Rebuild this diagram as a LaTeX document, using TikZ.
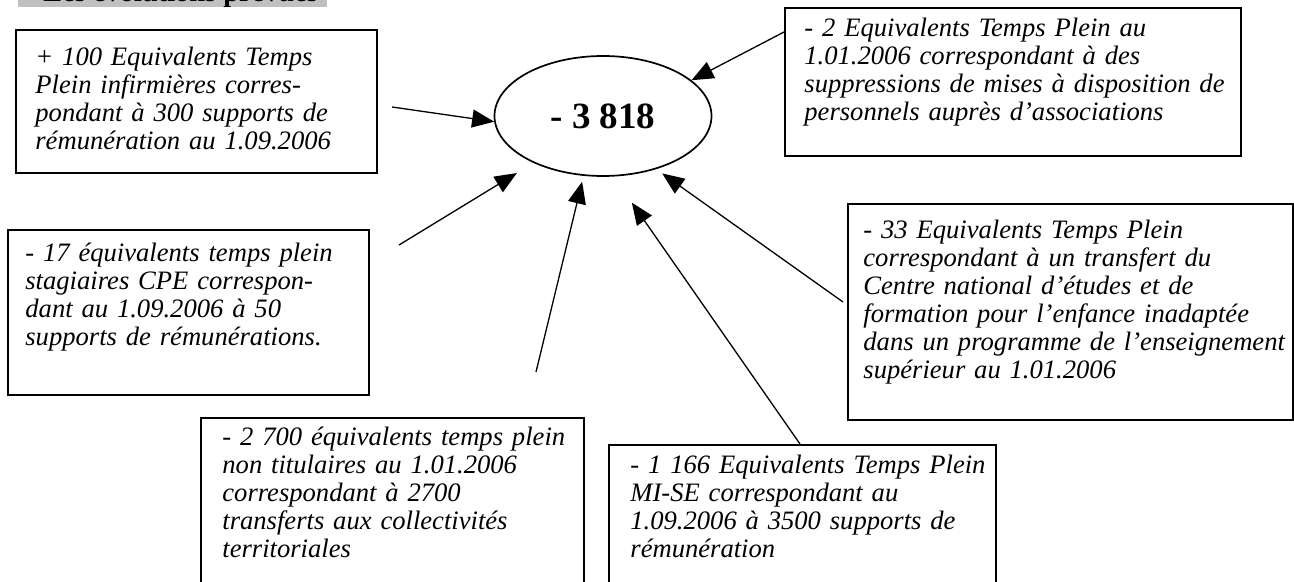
\documentclass[tikz,border=0pt]{standalone}
\usepackage{fontspec}
\setmainfont{Liberation Serif}
\usetikzlibrary{arrows.meta,shapes.geometric}
\definecolor{bandeau}{RGB}{192,192,192}
\tikzset{
  cadre/.style={draw, line width=1pt, anchor=north west, inner sep=0pt},
  note/.style={anchor=base west, inner sep=0pt, text width=#1, align=left,
    font=\fontsize{13.3}{14}\selectfont\itshape},
  fleche/.style={line width=0.65pt, -{Triangle[length=11pt,width=9pt]}},
}
\begin{document}
\begin{tikzpicture}[x=0.5pt, y=-0.5pt]
            \useasboundingbox (0,0) rectangle (1294,582);
            % bandeau du titre, coupe en haut
            \fill [bandeau] (18,-20) rectangle (327,7);
            \node [anchor=base west, inner sep=0pt, font=\fontsize{14.2}{16}\selectfont\bfseries] (titre) at (43,2) {Les évolutions prévues};
            % total
            \node [draw, ellipse, line width=0.85pt, minimum width=108.5pt, minimum height=60pt, inner sep=0pt] (total) at (603,116) {\fontsize{18.5}{22}\selectfont\bfseries - 3 818};
            % cadres
            \node [cadre, minimum width=180.5pt, minimum height=71.5pt] (b1) at (15,29) {};
            \node [note=170pt] (t1) at ([shift={(20,37)}]b1.north west) {+ 100 Equivalents Temps\\ Plein infirmières corres-\\ pondant à 300 supports de\\ rémunération au 1.09.2006};
            \node [cadre, minimum width=228pt, minimum height=74pt] (b2) at (784,7) {};
            \node [note=215pt] (t2) at ([shift={(20,30)}]b2.north west) {- 2 Equivalents Temps Plein au\\ 1.01.2006 correspondant à des\\ suppressions de mises à disposition de\\ personnels auprès d’associations};
            \node [cadre, minimum width=180.5pt, minimum height=82.5pt] (b3) at (7,229) {};
            \node [note=170pt] (t3) at ([shift={(18,33)}]b3.north west) {- 17 équivalents temps plein\\ stagiaires CPE correspon-\\ dant au 1.09.2006 à 50\\ supports de rémunérations.};
            \node [cadre, minimum width=222.5pt, minimum height=108pt] (b4) at (847,203) {};
            \node [note=214pt] (t4) at ([shift={(16,36)}]b4.north west) {- 33 Equivalents Temps Plein\\ correspondant à un transfert du\\ Centre national d’études et de\\ formation pour l’enfance inadaptée\\ dans un programme de l’enseignement\\ supérieur au 1.01.2006};
            \node [cadre, minimum width=191.5pt, minimum height=91.5pt] (b5) at (200,417) {};
            \node [note=180pt] (t5) at ([shift={(22,28)}]b5.north west) {- 2 700 équivalents temps plein\\ non titulaires au 1.01.2006\\ correspondant à 2700\\ transferts aux collectivités\\ territoriales};
            \node [cadre, minimum width=193.5pt, minimum height=78pt] (b6) at (608,444) {};
            \node [note=180pt] (t6) at ([shift={(22,29)}]b6.north west) {- 1 166 Equivalents Temps Plein\\ MI-SE correspondant au\\ 1.09.2006 à 3500 supports de\\ rémunération};
            % departs des fleches
            \coordinate (s1) at (392,107);
            \coordinate (s2) at ([shift={(0,25)}]b2.north west);
            \coordinate (s3) at (399,245);
            \coordinate (s4) at (536,372);
            \coordinate (s5) at ([shift={(192,0)}]b6.north west);
            \coordinate (s6) at (843,302);
            % fleches
            \draw [fleche] (s1) -- (total.183.7);
            \draw [fleche] (s2) -- (total.22.5);
            \draw [fleche, shorten >=9.7pt] (s3) -- (total.214.9);
            \draw [fleche, shorten >=3pt] (s4) -- (total.252.6);
            \draw [fleche, shorten >=15.9pt] (s5) -- (total.-80.7);
            \draw [fleche, shorten >=3.7pt] (s6) -- (total.-45.4);
        \end{tikzpicture}
\end{document}
